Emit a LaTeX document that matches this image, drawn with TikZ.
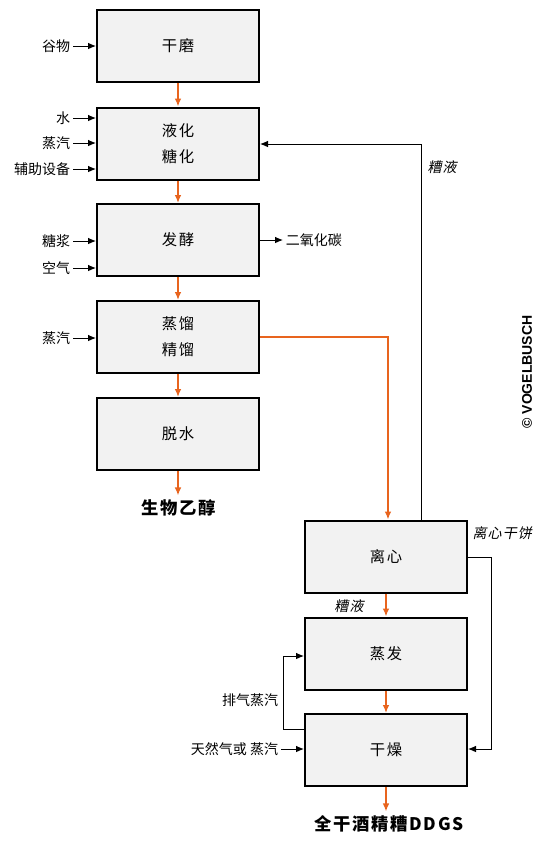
\documentclass[tikz,border=0pt]{standalone}
\usepackage{fontspec}
\setmainfont{Noto Sans CJK SC}
\newfontfamily\cjkit[FakeSlant=0.2,LetterSpace=8]{Noto Sans CJK SC}
\newfontfamily\cjkspaced[LetterSpace=10]{Noto Sans CJK SC}
\newfontfamily\latinbold{Liberation Sans}
\usetikzlibrary{arrows.meta}
\definecolor{procorange}{HTML}{E8641E}
\definecolor{boxfill}{HTML}{F2F2F2}
\begin{document}
\begin{tikzpicture}[x=0.75pt,y=-0.75pt,
 procbox/.style={draw=black,line width=1.5pt,fill=boxfill,minimum width=121.5pt,minimum height=54pt,inner sep=0pt,align=center,font=\cjkspaced\fontsize{11.5}{19.5}\selectfont},
 lbl/.style={inner sep=2pt,font=\fontsize{10.5}{12}\selectfont},
 itlbl/.style={inner sep=1pt,font=\cjkit\fontsize{10.5}{12}\selectfont},
 outlbl/.style={inner sep=3pt,font=\cjkspaced\bfseries\fontsize{13}{15}\selectfont},
 thinarrow/.style={line width=0.75pt,-{Latex[length=6pt,width=5pt]}},
 flow/.style={draw=procorange,line width=1.1pt,-{Latex[length=6pt,width=5pt]}}]
\useasboundingbox (0,0) rectangle (546,844);
\fill[white] (0,0) rectangle (546,844);
% process boxes
\node[procbox] (mill) at (178,46) {干磨};
\node[procbox] (liq) at (178,143.5) {液化\\糖化};
\node[procbox] (ferm) at (178,240) {发酵};
\node[procbox] (dist) at (178,337) {蒸馏\\精馏};
\node[procbox] (dehy) at (178,434) {脱水};
\node[procbox] (cent) at (386,556.5) {离心};
\node[procbox] (evap) at (386,653.5) {蒸发};
\node[procbox] (dry) at (386,750) {干燥};
% outputs
\node[outlbl] (ethanol) at (179,508) {生物乙醇};
\node[outlbl] (ddgs) at (389,824) {全干酒精糟DDGS};
% main flow
\draw[flow] (mill) -- (liq);
\draw[flow] (liq) -- (ferm);
\draw[flow] (ferm) -- (dist);
\draw[flow] (dist) -- (dehy);
\draw[flow] (dehy) -- (dehy.south |- ethanol.north);
\draw[flow] (cent) -- (evap);
\draw[flow] (evap) -- (dry);
\draw[flow] (dry) -- (dry.south |- ddgs.north);
\coordinate (o1) at (388,337);
\draw[flow] (dist.east) -- (o1) -- (cent.north -| o1);
% inputs
\node[lbl,anchor=east] (grain) at (73,46) {谷物};
\node[lbl,anchor=east] (water) at (73,118) {水};
\node[lbl,anchor=east] (steam1) at (73,143) {蒸汽};
\node[lbl,anchor=east] (aux) at (73,169) {辅助设备};
\node[lbl,anchor=east] (syrup) at (73,241) {糖浆};
\node[lbl,anchor=east] (air) at (73,268) {空气};
\node[lbl,anchor=east] (steam2) at (73,338) {蒸汽};
\draw[thinarrow] (grain.east) -- (grain.east -| mill.west);
\draw[thinarrow] (water.east) -- (water.east -| liq.west);
\draw[thinarrow] (steam1.east) -- (steam1.east -| liq.west);
\draw[thinarrow] (aux.east) -- (aux.east -| liq.west);
\draw[thinarrow] (syrup.east) -- (syrup.east -| ferm.west);
\draw[thinarrow] (air.east) -- (air.east -| ferm.west);
\draw[thinarrow] (steam2.east) -- (steam2.east -| dist.west);
% CO2
\node[lbl,anchor=west] (co2) at (283,240) {二氧化碳};
\draw[thinarrow] (ferm.east) -- (co2.west);
% stillage return
\coordinate (r1) at (421,144);
\draw[thinarrow] (cent.north -| r1) -- (r1) -- (liq.east |- r1);
\node[itlbl,anchor=west] (stil1) at (426,167) {糟液};
% centrifuge cake
\node[itlbl,anchor=west] (cake) at (471,533) {离心干饼};
\coordinate (c1) at (491,557);
\coordinate (c2) at (491,749);
\draw[thinarrow] (cent.east |- c1) -- (c1) -- (c2) -- (dry.east |- c2);
\node[itlbl] (stil2) at (349,606) {糟液};
% exhaust steam
\coordinate (e1) at (283,729);
\coordinate (e2) at (283,656);
\draw[thinarrow] (dry.west |- e1) -- (e1) -- (e2) -- (evap.west |- e2);
\node[lbl,anchor=east] (exh) at (281,700) {排气蒸汽};
\node[lbl,anchor=east] (gas) at (281,749) {天然气或 蒸汽};
\draw[thinarrow] (gas.east) -- (gas.east -| dry.west);
% copyright
\node[rotate=90,inner sep=0pt,font=\latinbold\bfseries\fontsize{10.5}{12}\selectfont] (copy) at (527,372) {© VOGELBUSCH};
\end{tikzpicture}
\end{document}
